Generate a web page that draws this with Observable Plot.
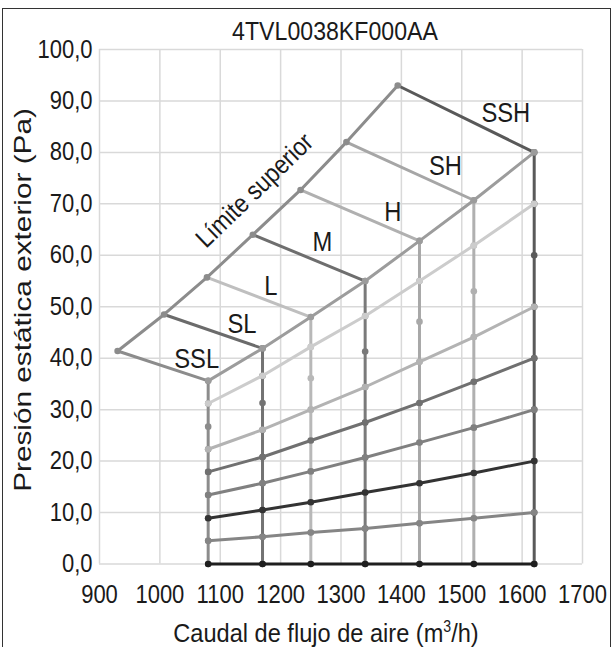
<!DOCTYPE html>
<html>
<head>
<meta charset="utf-8">
<script src="https://cdn.jsdelivr.net/npm/d3@7"></script>
<script src="https://cdn.jsdelivr.net/npm/@observablehq/plot@0.6"></script>
<style>
  html, body { margin: 0; padding: 0; background: #fff; }
  #wrap { position: relative; width: 612px; height: 647px; overflow: hidden; font-family: "Liberation Sans", Arial, sans-serif; color: #1a1a1a; }
  #border { position: absolute; left: 2px; top: 8px; width: 609px; height: 700px; border: 1.5px solid #333; box-sizing: border-box; }
  .t { position: absolute; white-space: nowrap; line-height: 1; }
  #chart { position: absolute; left: 0; top: 0; }
</style>
</head>
<body>
<div id="wrap">
  <div id="border"></div>
  <div id="chart"></div>
  <div class="t" id="title" style="left:335px; top:31px; font-size:26px; transform: translate(-50%, -50%) scaleX(0.89);">4TVL0038KF000AA</div>
  <div class="t" id="xtitle" style="left:326px; top:633px; font-size:26.5px; transform: translate(-50%, -50%) scaleX(0.89);">Caudal de flujo de aire (m<sup style="font-size:0.6em; vertical-align: 0.6em;">3</sup>/h)</div>
  <div class="t" id="ytitle" style="left:23px; top:300px; font-size:24px; transform: translate(-50%, -50%) rotate(-90deg) scaleX(1.24);">Presión estática exterior (Pa)</div>
</div>
<script>
// ---- Data ----
const xTicks = [900, 1000, 1100, 1200, 1300, 1400, 1500, 1600, 1700];
const yTicks = [0, 10, 20, 30, 40, 50, 60, 70, 80, 90, 100];

// airflow of each fan-speed column (m3/h)
const flow = [1080, 1170, 1250, 1340, 1430, 1520, 1620];
// external static pressure at each division level of the columns (Pa)
const level0 = [0, 0, 0, 0, 0, 0, 0];
const level1 = [4.5, 5.3, 6.1, 6.9, 7.9, 8.9, 10];
const level2 = [8.9, 10.5, 12.0, 13.9, 15.7, 17.7, 20];
const level3 = [13.4, 15.7, 18.0, 20.7, 23.6, 26.5, 30];
const level4 = [17.9, 20.8, 24.0, 27.5, 31.3, 35.4, 40];
const level5 = [22.3, 26.1, 30.0, 34.4, 39.3, 44.1, 50];
const level6 = [26.7, 31.3, 36.1, 41.3, 47.1, 53.0, 60];
const level7 = [31.2, 36.6, 42.2, 48.2, 55.0, 61.9, 70];
const level8 = [35.6, 41.9, 48.0, 55.0, 62.8, 70.7, 80];

// upper limit curve
const limitFlow = [930, 1007, 1078, 1154, 1233, 1309, 1394];
const limitPressure = [41.4, 48.5, 55.7, 64.0, 72.7, 82.0, 93.0];

// fan speed labels
const fanNames = ["SSL", "SL", "L", "M", "H", "SH", "SSH"];
const fanLabelFlow = [1061, 1136, 1184, 1269, 1386, 1473, 1573];
const fanLabelPressure = [39.7, 46.5, 54.0, 62.5, 68.3, 77.3, 87.5];
const limitLabel = "Límite superior";
const limitLabelFlow = [1157];
const limitLabelPressure = [72.6];

// ---- Styles ----
const vertColors = ["#8c8c8c", "#737373", "#b8b8b8", "#7a7a7a", "#a8a8a8", "#b0b0b0", "#5a5a5a"];
const levelColors = ["#1f1f1f", "#858585", "#333333", "#808080", "#707070", "#b3b3b3", null, "#cccccc"];
const fanColors = ["#8c8c8c", "#6b6b6b", "#bfbfbf", "#6e6e6e", "#b0b0b0", "#a6a6a6", "#595959"];
const limitColor = "#8c8c8c";
const topColor = "#9c9c9c";
const LW = 3, R = 3.3;

const levels = [level0, level1, level2, level3, level4, level5, level6, level7, level8];

const marks = [
  Plot.gridX(xTicks, {stroke: "#d9d9d9", strokeOpacity: 1, strokeWidth: 1.5}),
  Plot.gridY(yTicks, {stroke: "#d9d9d9", strokeOpacity: 1, strokeWidth: 1.5}),
  Plot.axisX(xTicks, {tickSize: 0, tickPadding: 21, label: null, fontSize: 25, fill: "#1a1a1a",
    tickFormat: d => String(d)}),
  Plot.axisY(yTicks, {tickSize: 0, tickPadding: 7, label: null, fontSize: 25, fill: "#1a1a1a",
    tickFormat: d => d.toFixed(1).replace(".", ",")})
];

// vertical columns
flow.forEach((q, i) => {
  const pts = levels.map(lv => ({q, p: lv[i]}));
  marks.push(Plot.line(pts, {x: "q", y: "p", stroke: vertColors[i], strokeWidth: LW}));
  marks.push(Plot.dot(pts, {x: "q", y: "p", fill: vertColors[i], r: R}));
});

// system curves (levels)
levels.slice(0, 8).forEach((lv, k) => {
  if (!levelColors[k]) return;
  const pts = flow.map((q, i) => ({q, p: lv[i]}));
  marks.push(Plot.line(pts, {x: "q", y: "p", stroke: levelColors[k], strokeWidth: LW}));
  marks.push(Plot.dot(pts, {x: "q", y: "p", fill: levelColors[k], r: R}));
});

// fan speed lines
fanNames.forEach((n, i) => {
  const pts = [{q: limitFlow[i], p: limitPressure[i]}, {q: flow[i], p: level8[i]}];
  marks.push(Plot.line(pts, {x: "q", y: "p", stroke: fanColors[i], strokeWidth: LW}));
});

// upper limit
const limPts = limitFlow.map((q, i) => ({q, p: limitPressure[i]}));
marks.push(Plot.line(limPts, {x: "q", y: "p", stroke: limitColor, strokeWidth: LW}));
marks.push(Plot.dot(limPts, {x: "q", y: "p", fill: limitColor, r: R}));

// top curve
const topPts = flow.map((q, i) => ({q, p: level8[i]}));
marks.push(Plot.line(topPts, {x: "q", y: "p", stroke: topColor, strokeWidth: LW}));
marks.push(Plot.dot(topPts, {x: "q", y: "p", fill: topColor, r: R}));

// labels
const labelData = fanNames.map((n, i) => ({n, q: fanLabelFlow[i], p: fanLabelPressure[i]}));
marks.push(Plot.text(labelData, {x: "q", y: "p", text: "n", fontSize: 27, fill: "#1a1a1a", lineAnchor: "middle"}));
marks.push(Plot.text([limitLabel], {x: () => limitLabelFlow[0], y: () => limitLabelPressure[0], text: d => d, rotate: -44, fontSize: 26, fill: "#1a1a1a", lineAnchor: "middle", ariaLabel: "limit-label"}));

const chart = Plot.plot({
  width: 612,
  height: 647,
  marginLeft: 99,
  marginRight: 30,
  marginTop: 49,
  marginBottom: 83.5,
  x: {domain: [900, 1700]},
  y: {domain: [0, 100]},
  style: {fontFamily: '"Liberation Sans", Arial, sans-serif', background: "transparent", color: "#1a1a1a"},
  marks
});

// horizontally condense the chart's text, as in the reference
chart.querySelectorAll("text").forEach(t => {
  const g = t.closest("g[aria-label]");
  if (g && g.getAttribute("aria-label") === "limit-label") return;
  const tr = t.getAttribute("transform");
  if (tr) t.setAttribute("transform", `${tr} scale(0.88,1)`);
});
document.getElementById("chart").appendChild(chart);
</script>
</body>
</html>
